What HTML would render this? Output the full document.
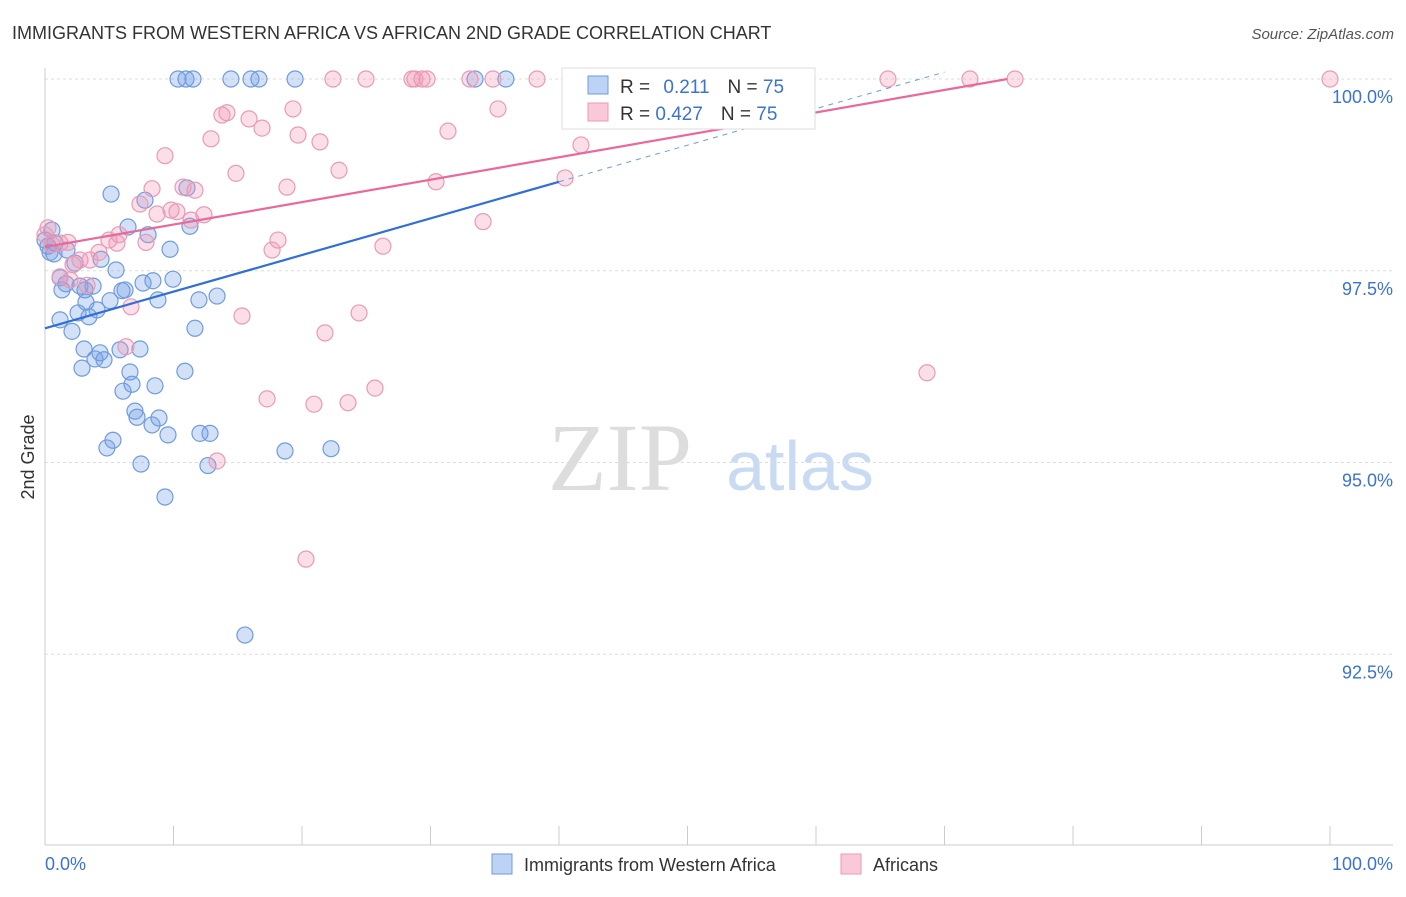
<!DOCTYPE html>
<html><head><meta charset="utf-8"><style>
body{margin:0;background:#fff;font-family:"Liberation Sans",sans-serif}
</style></head><body>
<svg id="c" width="1406" height="892" xmlns="http://www.w3.org/2000/svg" style="font-family:'Liberation Sans',sans-serif">
<text x="12" y="39" font-size="18" fill="#333">IMMIGRANTS FROM WESTERN AFRICA VS AFRICAN 2ND GRADE CORRELATION CHART</text>
<text x="1394" y="39" font-size="15" fill="#555" font-style="italic" text-anchor="end">Source: ZipAtlas.com</text>
<text x="34" y="457" font-size="18" fill="#333" transform="rotate(-90 34 457)" text-anchor="middle">2nd Grade</text>
<text x="620" y="490" font-size="96" fill="#ddd" font-family="Liberation Serif" text-anchor="middle">ZIP</text>
<text x="800" y="490" font-size="70" fill="#c9dbf2" text-anchor="middle">atlas</text>
<g id="grid"></g><g id="pts"></g><g id="lines"></g>
<g>
<rect x="562" y="68" width="253" height="61" fill="#fff" stroke="#ddd"/>
<rect x="588" y="76" width="20" height="18" fill="#bcd3f5" stroke="#6f9be0"/>
<rect x="588" y="103" width="20" height="18" fill="#f9c9d8" stroke="#ea9ab4"/>
<text x="620" y="93" font-size="19" fill="#333">R = <tspan fill="#3a73d0" dx="8">0.211</tspan><tspan fill="#333" dx="18">N = </tspan><tspan fill="#3a73d0">75</tspan></text>
<text x="620" y="120" font-size="19" fill="#333">R = <tspan fill="#3a73d0">0.427</tspan><tspan fill="#333" dx="18">N = </tspan><tspan fill="#3a73d0">75</tspan></text>
</g>
<text x="45" y="870" font-size="18" fill="#3a73d0">0.0%</text>
<text x="1393" y="870" font-size="18" fill="#3a73d0" text-anchor="end">100.0%</text>
<rect x="492" y="854" width="20" height="20" fill="#bcd3f5" stroke="#6f9be0"/>
<text x="524" y="871" font-size="18" fill="#333">Immigrants from Western Africa</text>
<rect x="841" y="854" width="20" height="20" fill="#f9c9d8" stroke="#ea9ab4"/>
<text x="873" y="871" font-size="18" fill="#333">Africans</text>
</svg>
<script>
const yTicks=[100,97.5,95,92.5];
const yTickLabels=["100.0%","97.5%","95.0%","92.5%"];
const blueX=[10.35,10.97,11.52,14.47,16.03,16.65,19.46,33.46,35.87,5.14,7.78,11.05,6.46,11.28,8.02,0.54,0.78,1.71,0.39,9.73,4.36,5.53,2.33,1.17,1.63,2.72,3.74,6.23,7.63,8.40,9.96,5.99,5.06,3.19,8.79,11.98,13.39,4.05,2.57,3.42,1.17,2.10,11.67,3.04,4.28,5.84,7.39,3.89,4.59,2.88,6.61,10.89,6.77,8.56,6.07,7.00,7.16,8.87,8.33,9.57,12.06,12.84,5.29,4.82,18.68,22.26,7.47,12.68,9.34,15.56,0,0.23,0.70,3.11,1.32];
const blueY=[100,100,100,100,100,100,100,100,100,98.50,98.42,98.58,98.07,98.08,97.97,98.03,97.86,97.77,97.74,97.78,97.65,97.51,97.60,97.41,97.33,97.30,97.30,97.25,97.34,97.37,97.39,97.24,97.11,97.09,97.12,97.12,97.17,96.99,96.95,96.90,96.86,96.71,96.75,96.48,96.43,96.47,96.48,96.35,96.34,96.23,96.18,96.19,96.02,96.00,95.93,95.67,95.59,95.58,95.49,95.36,95.38,95.38,95.29,95.19,95.15,95.18,94.98,94.96,94.55,92.75,97.90,97.82,97.72,97.25,97.25];
const pinkX=[22.41,24.98,28.56,29.34,29.73,33.07,34.86,38.29,42.33,52.53,59.14,65.60,71.98,75.49,100,28.79,43.19,14.16,13.77,15.88,16.89,19.30,35.25,12.92,19.69,21.40,31.36,9.34,41.71,14.86,22.88,8.33,10.74,11.67,18.83,30.43,40.47,7.39,8.72,9.81,10.27,12.37,11.36,34.09,5.76,7.86,4.98,5.60,1.17,1.79,18.13,17.67,26.30,4.20,3.50,2.18,2.72,1.17,1.95,3.27,6.69,15.33,24.44,21.79,6.30,25.68,17.28,20.93,23.58,13.39,20.31,68.64,0.23,0.54,0];
const pinkY=[100,100,100,100,100,100,100,100,100,100,100,100,100,100,100,100,100,99.56,99.53,99.48,99.36,99.61,99.61,99.22,99.27,99.18,99.32,99.00,99.14,98.77,98.81,98.57,98.59,98.55,98.59,98.66,98.71,98.37,98.24,98.29,98.27,98.23,98.16,98.14,97.97,97.87,97.90,97.86,97.86,97.87,97.90,97.77,97.82,97.74,97.64,97.58,97.64,97.42,97.38,97.31,97.03,96.91,96.95,96.69,96.51,95.97,95.83,95.76,95.78,95.02,93.74,96.17,98.06,97.84,97.97];
const blueTrend=[[0,96.75],[40,98.66]];
const blueTrendExt=[[40,98.66],[70,100.09]];
const pinkTrend=[[0,97.81],[74.9,100]];
const NS="http://www.w3.org/2000/svg";
const X=v=>45+v*12.85, Y=v=>79+(100-v)*76.7;
function mk(t,a,p){const e=document.createElementNS(NS,t);for(const k in a)e.setAttribute(k,a[k]);p.appendChild(e);return e;}
const grid=document.getElementById('grid');
yTicks.forEach((t,i)=>{
 const l=mk('line',{x1:45,x2:1393,y1:Y(t),y2:Y(t),stroke:'#ddd','stroke-dasharray':'3 3'},grid);
 
 
 const tx=mk('text',{x:1393,y:Y(t)+24,'font-size':18,fill:'#3a73d0','text-anchor':'end'},grid);
 tx.textContent=yTickLabels[i];
 
 
});
const ax=mk('line',{x1:45,x2:45,y1:68,y2:845,stroke:'#ccc'},grid);


const bx=mk('line',{x1:45,x2:1393,y1:845,y2:845,stroke:'#ccc'},grid);


for(let i=0;i<=10;i++){
 const t=mk('line',{x1:X(i*10),x2:X(i*10),y1:826,y2:845,stroke:'#ccc'},grid);
 
 
}
const pts=document.getElementById('pts');
blueX.forEach((v,i)=>{
 const c=mk('circle',{cx:X(v),cy:Y(blueY[i]),r:8,fill:'rgba(110,155,230,0.3)',stroke:'#6f9be0','stroke-width':1.2},pts);
 
 
});
pinkX.forEach((v,i)=>{
 const c=mk('circle',{cx:X(v),cy:Y(pinkY[i]),r:8,fill:'rgba(240,150,180,0.3)',stroke:'#ea9ab4','stroke-width':1.2},pts);
 
 
});
const lines=document.getElementById('lines');
function ln(p,st,w,dash,name){
 const l=mk('line',{x1:X(p[0][0]),y1:Y(p[0][1]),x2:X(p[1][0]),y2:Y(p[1][1]),stroke:st,'stroke-width':w},lines);
 if(dash)l.setAttribute('stroke-dasharray',dash);
 
 
}
ln(blueTrend,'#2f6fd6',2.2,null,'blue-trend-line');
ln(blueTrendExt,'#6f9be0',1,'5 5','blue-trend-extension');
ln(pinkTrend,'#e8699a',2.2,null,'pink-trend-line');
</script>
</body></html>
